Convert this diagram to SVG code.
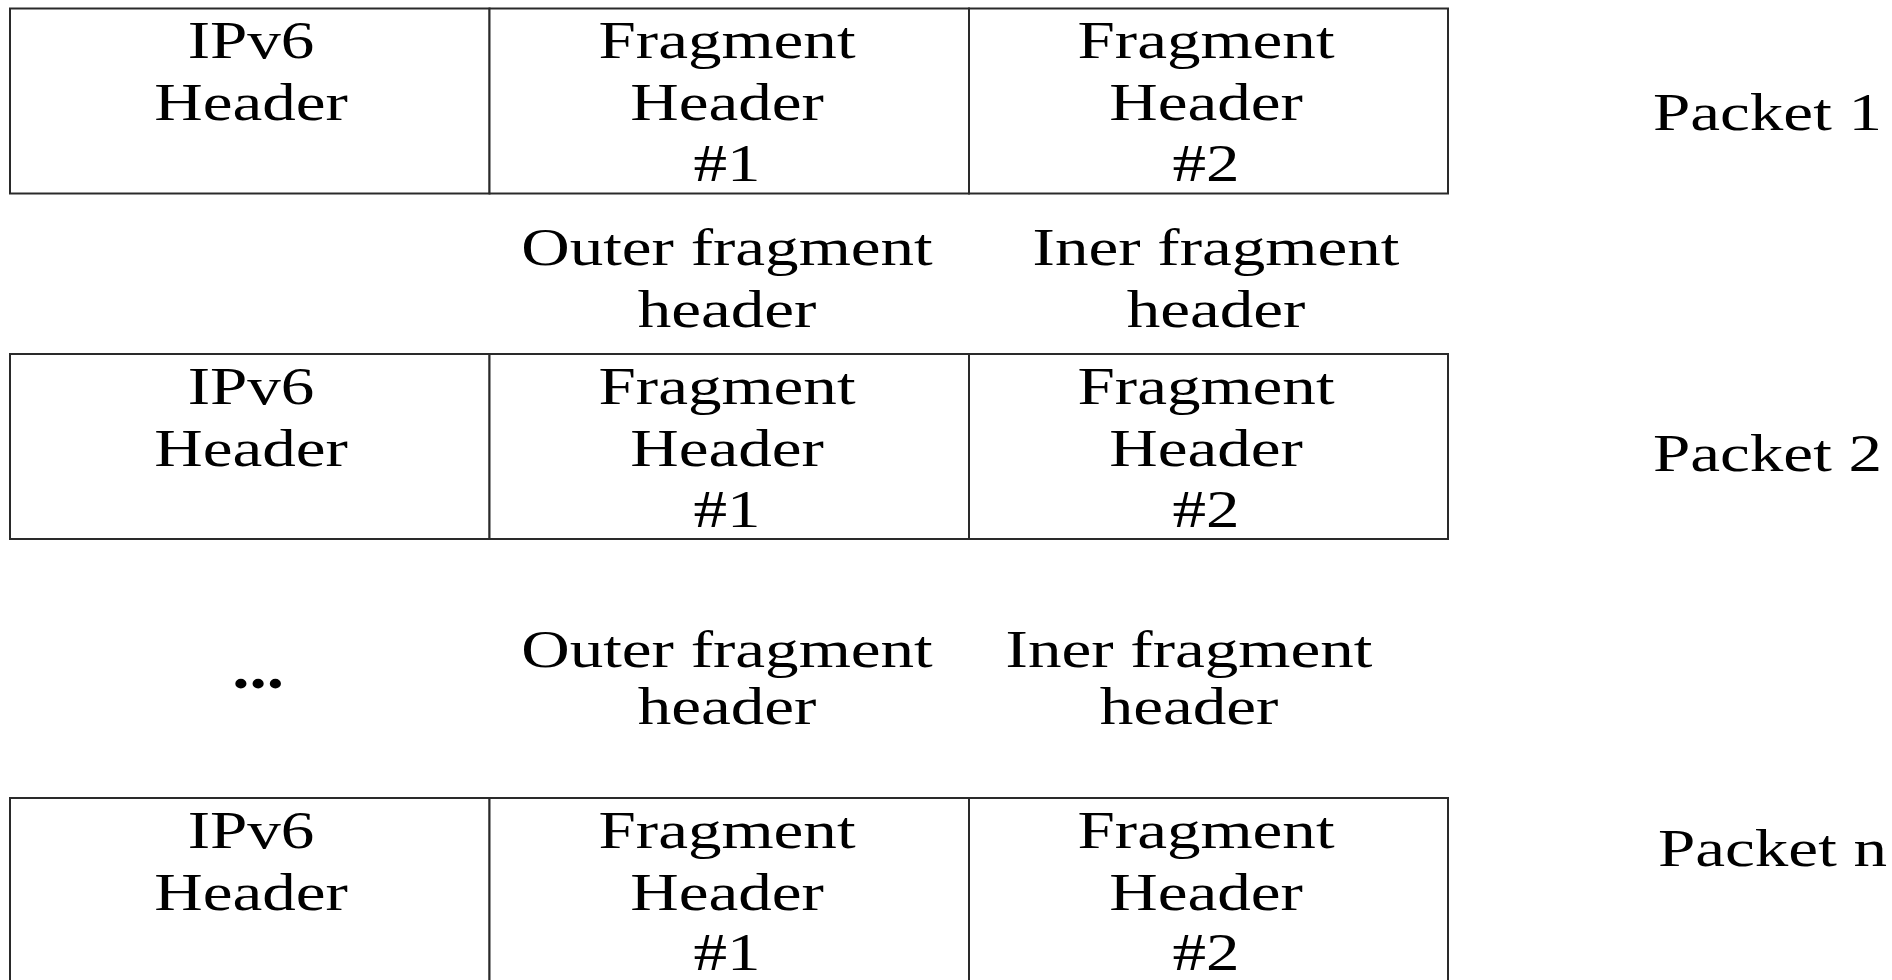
<svg xmlns="http://www.w3.org/2000/svg" width="1892" height="980" viewBox="0 0 1892 980">
<style>
.bg{fill:#ffffff}
.cell{fill:#ffffff;stroke:#2a2a2a;stroke-width:2}
.t{font-family:"Liberation Serif","Times New Roman",serif;font-size:52px;fill:#000;text-anchor:middle}
.l{font-family:"Liberation Serif","Times New Roman",serif;font-size:52px;fill:#000;text-anchor:start}
.dots{font-family:"Liberation Serif","Times New Roman",serif;font-size:60px;font-weight:bold;fill:#000;text-anchor:middle}
</style>
<rect class="bg" x="0" y="0" width="1892" height="980"/>

<!-- Packet 1 -->
<g id="p1-ipv6">
<rect class="cell" x="10" y="8.5" width="479.5" height="185"/>
<text class="t" transform="matrix(1.29 0 0 1 251 0)"><tspan x="0" y="58">IPv6</tspan><tspan x="0" y="120">Header</tspan></text>
</g>
<g id="p1-frag1">
<rect class="cell" x="489.5" y="8.5" width="479.5" height="185"/>
<text class="t" transform="matrix(1.29 0 0 1 727 0)"><tspan x="0" y="58">Fragment</tspan><tspan x="0" y="120">Header</tspan><tspan x="0" y="181">#1</tspan></text>
</g>
<g id="p1-frag2">
<rect class="cell" x="969" y="8.5" width="479" height="185"/>
<text class="t" transform="matrix(1.29 0 0 1 1206 0)"><tspan x="0" y="58">Fragment</tspan><tspan x="0" y="120">Header</tspan><tspan x="0" y="181">#2</tspan></text>
</g>
<g id="p1-label">
<text class="l" transform="matrix(1.29 0 0 1 1653 0)" x="0" y="130">Packet 1</text>
</g>

<!-- Labels between packet 1 and 2 -->
<g id="outer-label-1">
<text class="t" transform="matrix(1.29 0 0 1 727 0)"><tspan x="0" y="265">Outer fragment</tspan><tspan x="0" y="327">header</tspan></text>
</g>
<g id="inner-label-1">
<text class="t" transform="matrix(1.29 0 0 1 1216 0)"><tspan x="0" y="265">Iner fragment</tspan><tspan x="0" y="327">header</tspan></text>
</g>

<!-- Packet 2 -->
<g id="p2-ipv6">
<rect class="cell" x="10" y="354" width="479.5" height="185"/>
<text class="t" transform="matrix(1.29 0 0 1 251 0)"><tspan x="0" y="404">IPv6</tspan><tspan x="0" y="466">Header</tspan></text>
</g>
<g id="p2-frag1">
<rect class="cell" x="489.5" y="354" width="479.5" height="185"/>
<text class="t" transform="matrix(1.29 0 0 1 727 0)"><tspan x="0" y="404">Fragment</tspan><tspan x="0" y="466">Header</tspan><tspan x="0" y="527">#1</tspan></text>
</g>
<g id="p2-frag2">
<rect class="cell" x="969" y="354" width="479" height="185"/>
<text class="t" transform="matrix(1.29 0 0 1 1206 0)"><tspan x="0" y="404">Fragment</tspan><tspan x="0" y="466">Header</tspan><tspan x="0" y="527">#2</tspan></text>
</g>
<g id="p2-label">
<text class="l" transform="matrix(1.29 0 0 1 1653 0)" x="0" y="471">Packet 2</text>
</g>

<!-- Ellipsis and labels between packet 2 and n -->
<g id="ellipsis">
<text class="dots" transform="matrix(1.15 0 0 1 258 0)" x="0" y="688">...</text>
</g>
<g id="outer-label-2">
<text class="t" transform="matrix(1.29 0 0 1 727 0)"><tspan x="0" y="667">Outer fragment</tspan><tspan x="0" y="724">header</tspan></text>
</g>
<g id="inner-label-2">
<text class="t" transform="matrix(1.29 0 0 1 1189 0)"><tspan x="0" y="667">Iner fragment</tspan><tspan x="0" y="724">header</tspan></text>
</g>

<!-- Packet n -->
<g id="pn-ipv6">
<rect class="cell" x="10" y="798" width="479.5" height="190"/>
<text class="t" transform="matrix(1.29 0 0 1 251 0)"><tspan x="0" y="848">IPv6</tspan><tspan x="0" y="910">Header</tspan></text>
</g>
<g id="pn-frag1">
<rect class="cell" x="489.5" y="798" width="479.5" height="190"/>
<text class="t" transform="matrix(1.29 0 0 1 727 0)"><tspan x="0" y="848">Fragment</tspan><tspan x="0" y="910">Header</tspan><tspan x="0" y="970">#1</tspan></text>
</g>
<g id="pn-frag2">
<rect class="cell" x="969" y="798" width="479" height="190"/>
<text class="t" transform="matrix(1.29 0 0 1 1206 0)"><tspan x="0" y="848">Fragment</tspan><tspan x="0" y="910">Header</tspan><tspan x="0" y="970">#2</tspan></text>
</g>
<g id="pn-label">
<text class="l" transform="matrix(1.29 0 0 1 1658 0)" x="0" y="866">Packet n</text>
</g>

<g id="connectors"></g>
</svg>
